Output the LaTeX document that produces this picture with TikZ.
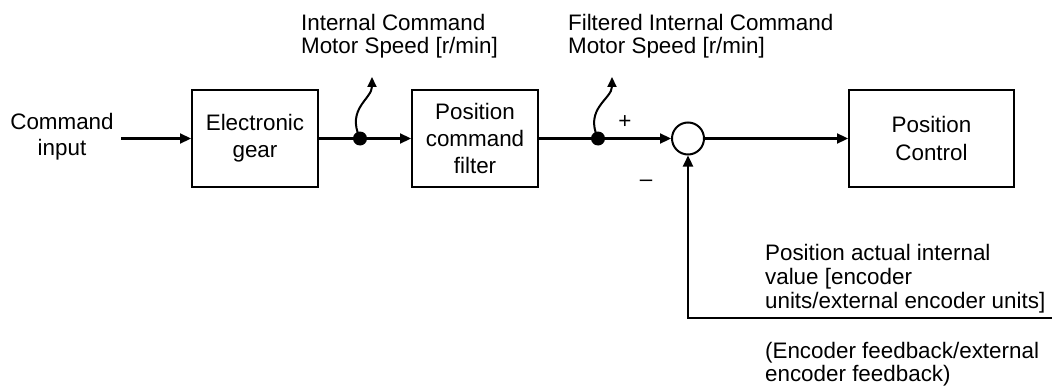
\documentclass[tikz,border=0pt]{standalone}
\usepackage{fontspec}
\setmainfont{Liberation Sans}
\usetikzlibrary{arrows.meta, positioning}

\begin{document}
\begin{tikzpicture}[x=0.5pt, y=-0.5pt, line width=1.1pt,
 txt/.style={font=\fontsize{11.2}{11.8}\selectfont, inner sep=0pt},
 box/.style={txt, draw, line width=1pt, minimum width=63pt, minimum height=48.5pt, align=center, font=\fontsize{11.2}{13.6}\selectfont},
 lbl/.style={txt, align=left, anchor=north west},
 dot/.style={circle, fill, inner sep=0pt, minimum size=7pt},
 sig/.style={-{Triangle[length=5.5pt,width=5pt]}},
 tap/.style={line width=1pt, -{Triangle[length=5pt,width=4.5pt]}}]
 \useasboundingbox (0,0) rectangle (1052,385);
 % blocks
 \node[txt, align=center, font=\fontsize{11.2}{13.2}\selectfont] (cmdtxt) at (62,137){Command\\input};
 \node[box] (gear) at (255,138.5){Electronic\\gear};
 \node[box] (filt) at (475,138.5){Position\\command\\filter};
 \node[draw, circle, line width=1pt, minimum size=16pt, inner sep=0pt] (sum) at (688,138.5){};
 \node[box, minimum width=82.5pt] (pctl) at (931.5,138.5){Position\\Control};
 \node[dot] (d1) at (360,138.5){};
 \node[dot] (d2) at (598,138.5){};
 \coordinate (cmd) at (121,138.5);
 \coordinate (w1) at (372,77);
 \coordinate (w2) at (612,77);
 \coordinate (fb) at (1052,318);
 % labels
 \node[lbl] (ictxt) at (300,13){Internal Command\\Motor Speed [r/min]};
 \node[lbl] (fictxt) at (567,13){Filtered Internal Command\\Motor Speed [r/min]};
 \node[txt] (plus) at (625,122){+};
 \node[txt] (minus) at (646,183){–};
 \node[lbl, font=\fontsize{11.2}{12}\selectfont] (pavtxt) at (764,243){Position actual internal\\value [encoder\\units/external encoder units]};
 \node[lbl] (fbtxt) at (764,341){(Encoder feedback/external\\encoder feedback)};
 % signals
 \draw[sig] (cmd) -- (gear);
 \draw[sig] (gear) -- (filt);
 \draw[sig] (filt) -- (sum);
 \draw[sig] (sum) -- (pctl);
 \draw[sig] (fb) -| (sum);
 \draw[tap] (d1.center) .. controls +(-14,-30) and +(0,22) .. (w1);
 \draw[tap] (d2.center) .. controls +(-14,-30) and +(0,22) .. (w2);
\end{tikzpicture}
\end{document}
